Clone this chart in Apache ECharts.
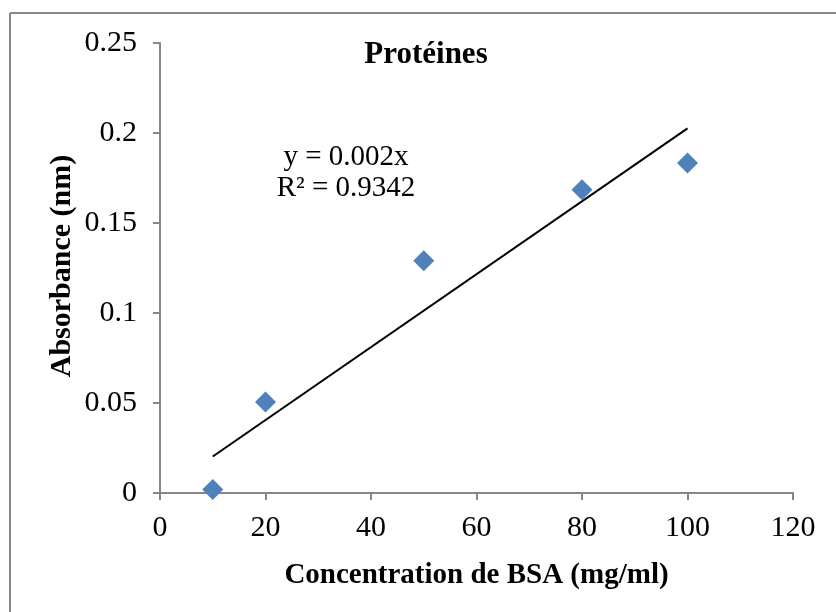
<!DOCTYPE html>
<html>
<head>
<meta charset="utf-8">
<script src="https://cdn.jsdelivr.net/npm/echarts@6/dist/echarts.min.js"></script>
<style>html,body{margin:0;padding:0;background:#fff}#c{width:836px;height:612px}</style>
</head>
<body>
<div id="c"></div>
<script>
// Data
const concentrations = [10, 20, 50, 80, 100];
const absorbances = [0.002, 0.0505, 0.129, 0.1685, 0.1833];
const trendX = [10, 100];
const trendY = [0.0203, 0.2026];
const xTicks = [0, 20, 40, 60, 80, 100, 120];
const yTicks = [0, 0.05, 0.1, 0.15, 0.2, 0.25];
const chartTitle = 'Protéines';
const xTitle = 'Concentration de BSA (mg/ml)';
const yTitle = 'Absorbance (nm)';
const eqLine1 = 'y = 0.002x';
const eqLine2 = 'R² = 0.9342';

const font = '"Liberation Serif","Times New Roman",serif';
const axisColor = '#868686';

const chart = echarts.init(document.getElementById('c'), null, {renderer: 'canvas'});
chart.setOption({
  animation: false,
  backgroundColor: '#fff',
  grid: {left: 160, right: 43, top: 43, bottom: 119},
  xAxis: {
    type: 'value', min: xTicks[0], max: xTicks[xTicks.length - 1], interval: 20,
    name: xTitle, nameLocation: 'middle', nameGap: 68,
    nameTextStyle: {fontFamily: font, fontSize: 29, fontWeight: 'bold', color: '#000'},
    axisLine: {show: true, lineStyle: {color: axisColor, width: 2}},
    axisTick: {show: true, length: 7, lineStyle: {color: axisColor, width: 2}},
    axisLabel: {fontFamily: font, fontSize: 30, color: '#000', margin: 20},
    splitLine: {show: false}
  },
  yAxis: {
    type: 'value', min: yTicks[0], max: yTicks[yTicks.length - 1], interval: 0.05,
    axisLine: {show: true, lineStyle: {color: axisColor, width: 2}},
    axisTick: {show: true, length: 7, lineStyle: {color: axisColor, width: 2}},
    axisLabel: {fontFamily: font, fontSize: 30, color: '#000', margin: 23,
      formatter: v => String(+v.toFixed(2))},
    splitLine: {show: false}
  },
  graphic: [
    {type: 'line', shape: {x1: 10, y1: 13, x2: 836, y2: 13}, style: {stroke: axisColor, lineWidth: 2}},
    {type: 'line', shape: {x1: 10, y1: 13, x2: 10, y2: 612}, style: {stroke: axisColor, lineWidth: 2}},
    {type: 'text', x: 426, y: 55, style: {text: chartTitle, font: 'bold 31px ' + font, fill: '#000', textAlign: 'center', textVerticalAlign: 'middle'}},
    {type: 'text', x: 62, y: 266, rotation: Math.PI / 2, style: {text: yTitle, font: 'bold 30px ' + font, fill: '#000', textAlign: 'center', textVerticalAlign: 'middle'}},
    {type: 'text', x: 346, y: 157, style: {text: eqLine1, font: '29px ' + font, fill: '#000', textAlign: 'center', textVerticalAlign: 'middle'}},
    {type: 'text', x: 346, y: 188, style: {text: eqLine2, font: '29px ' + font, fill: '#000', textAlign: 'center', textVerticalAlign: 'middle'}}
  ],
  series: [
    {
      type: 'line', data: trendX.map((x, i) => [x, trendY[i]]),
      symbol: 'none', lineStyle: {color: '#000', width: 2}, z: 2
    },
    {
      type: 'scatter', data: concentrations.map((x, i) => [x, absorbances[i]]),
      symbol: 'diamond', symbolSize: [21, 21],
      itemStyle: {color: '#4F81BD', opacity: 1}, z: 3
    }
  ]
});
</script>
</body>
</html>
